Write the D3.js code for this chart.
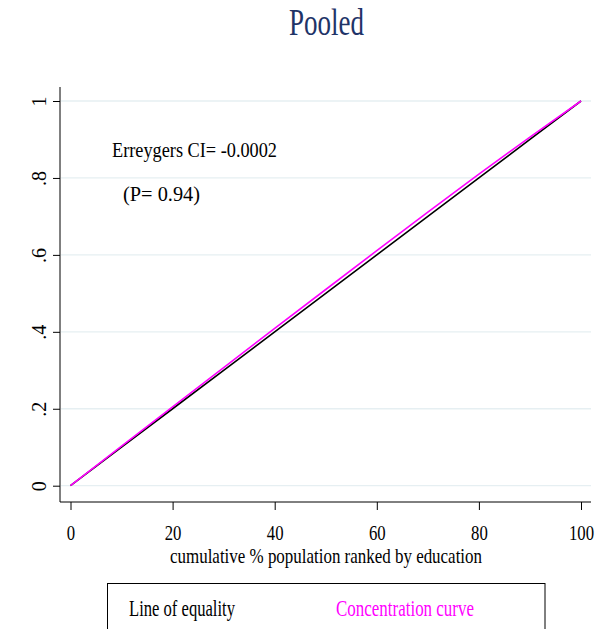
<!DOCTYPE html>
<html>
<head>
<meta charset="utf-8">
<script src="https://cdn.jsdelivr.net/npm/d3@7"></script>
<style>
  html, body { margin: 0; padding: 0; background: #fff; }
  text { font-family: "Liberation Serif", "Times New Roman", serif; }
</style>
</head>
<body>
<svg id="chart" width="605" height="629"></svg>
<script>
// ---- data ----
const popShare = [0, 10, 20, 30, 40, 50, 60, 70, 80, 90, 100];
const equality = [0, 0.1, 0.2, 0.3, 0.4, 0.5, 0.6, 0.7, 0.8, 0.9, 1.0];
const concentration = [0, 0.103, 0.205, 0.307, 0.409, 0.510, 0.611, 0.711, 0.810, 0.906, 1.0];
const xTicks = [0, 20, 40, 60, 80, 100];
const yTicks = [0, 0.2, 0.4, 0.6, 0.8, 1];
const yTickLabels = ["0", ".2", ".4", ".6", ".8", "1"];
const titleText = "Pooled";
const xAxisTitle = "cumulative % population ranked by education";
const annotation1 = "Erreygers CI= -0.0002";
const annotation2 = "(P= 0.94)";
const legendLabels = ["Line of equality", "Concentration curve"];
const seriesColors = ["#000000", "#ff00ff"];

const svg = d3.select("#chart");
const x = d3.scaleLinear().domain([0, 100]).range([70.5, 581]);
const y = d3.scaleLinear().domain([0, 1]).range([485.7, 101]);

const plotLeft = 60, plotRight = 591, plotTop = 87, plotBottom = 502;

// condensed-text helper
function condense(sel, ratio) {
  sel.each(function() {
    const len = this.getComputedTextLength();
    d3.select(this).attr("textLength", len * ratio).attr("lengthAdjust", "spacingAndGlyphs");
  });
}

// gridlines
svg.append("g").selectAll("line").data(yTicks).join("line")
  .attr("x1", plotLeft + 1).attr("x2", plotRight)
  .attr("y1", d => y(d)).attr("y2", d => y(d))
  .attr("stroke", "#e6eff2").attr("stroke-width", 1.3);

// y axis
const yAxis = d3.axisLeft(y).tickValues(yTicks).tickSize(7)
  .tickFormat((d, i) => yTickLabels[i]);
const gy = svg.append("g").attr("transform", `translate(${plotLeft},0)`).call(yAxis);
gy.select(".domain").remove();
gy.selectAll(".tick line").attr("stroke", "#000");
gy.selectAll(".tick text")
  .attr("x", null).attr("dy", null)
  .attr("transform", "translate(-14,0) rotate(-90)")
  .attr("text-anchor", "middle")
  .attr("font-size", 20)
  .attr("fill", "#000")
  .style("font-family", "'Liberation Serif', serif");
svg.append("line").attr("x1", plotLeft).attr("x2", plotLeft)
  .attr("y1", plotTop).attr("y2", plotBottom).attr("stroke", "#000").attr("stroke-width", 1);

// x axis
const xAxis = d3.axisBottom(x).tickValues(xTicks).tickSize(8).tickFormat(d3.format("d"));
const gx = svg.append("g").attr("transform", `translate(0,${plotBottom})`).call(xAxis);
gx.select(".domain").remove();
gx.selectAll(".tick line").attr("stroke", "#000");
gx.selectAll(".tick text")
  .attr("y", 38).attr("dy", null)
  .attr("font-size", 22)
  .attr("fill", "#000")
  .style("font-family", "'Liberation Serif', serif")
  .call(condense, 0.76);
svg.append("line").attr("x1", plotLeft).attr("x2", plotRight)
  .attr("y1", plotBottom).attr("y2", plotBottom).attr("stroke", "#000").attr("stroke-width", 1);

// lines
const line = d3.line().x((d, i) => x(popShare[i])).y(d => y(d));
svg.append("path").datum(equality).attr("d", line)
  .attr("fill", "none").attr("stroke", seriesColors[0]).attr("stroke-width", 1.6);
svg.append("path").datum(concentration).attr("d", line)
  .attr("fill", "none").attr("stroke", seriesColors[1]).attr("stroke-width", 1.6);

// title
svg.append("text").attr("x", 289).attr("y", 35)
  .attr("font-size", 37).attr("fill", "#1f3468")
  .attr("textLength", 75).attr("lengthAdjust", "spacingAndGlyphs")
  .text(titleText);

// annotations
svg.append("text").attr("x", 112).attr("y", 157)
  .attr("font-size", 21).attr("fill", "#000")
  .attr("textLength", 165).attr("lengthAdjust", "spacingAndGlyphs")
  .text(annotation1);
svg.append("text").attr("x", 123).attr("y", 201)
  .attr("font-size", 22).attr("fill", "#000")
  .attr("textLength", 77).attr("lengthAdjust", "spacingAndGlyphs")
  .text(annotation2);

// x axis title
svg.append("text").attr("x", 170).attr("y", 563)
  .attr("font-size", 22).attr("fill", "#000")
  .attr("textLength", 312).attr("lengthAdjust", "spacingAndGlyphs")
  .text(xAxisTitle);

// legend
svg.append("rect").attr("x", 107.5).attr("y", 583.5).attr("width", 437.5).attr("height", 60)
  .attr("fill", "#fff").attr("stroke", "#000").attr("stroke-width", 1);
const legendX = [129, 336], legendW = [106, 138];
svg.append("g").selectAll("text").data(legendLabels).join("text")
  .attr("x", (d, i) => legendX[i]).attr("y", 616)
  .attr("font-size", 23)
  .attr("fill", (d, i) => seriesColors[i])
  .attr("textLength", (d, i) => legendW[i]).attr("lengthAdjust", "spacingAndGlyphs")
  .text(d => d);
</script>
</body>
</html>
